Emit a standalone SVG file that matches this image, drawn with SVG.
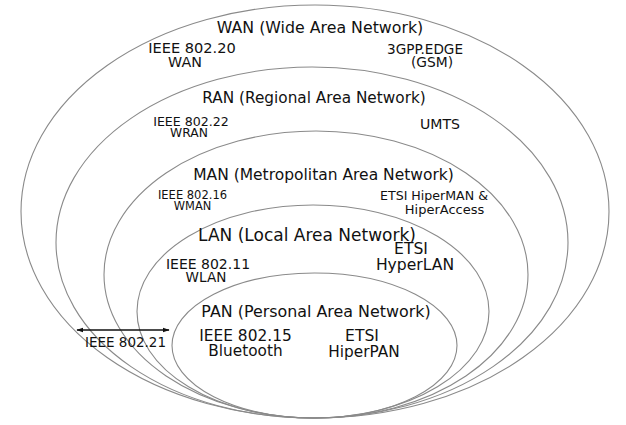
<svg xmlns="http://www.w3.org/2000/svg" width="626" height="425" viewBox="0 0 626 425">
<style>
.ring{fill:none;stroke:#8a8a8a;stroke-width:1.1}
text{font-family:"DejaVu Sans","Liberation Sans",sans-serif;fill:#111;text-anchor:middle}
.conn{stroke:#111;stroke-width:1.3;fill:none}
</style>
<defs>
<marker id="ah" viewBox="0 0 10 10" refX="9" refY="5" markerWidth="7" markerHeight="7" orient="auto-start-reverse" markerUnits="userSpaceOnUse">
<path d="M0,1.5 L10,5 L0,8.5 z" fill="#111"/>
</marker>
</defs>
<rect width="626" height="425" fill="#fff"/>
<g id="wan">
<ellipse class="ring" cx="315" cy="211.5" rx="294" ry="206.5"/>
<text x="320" y="32.5" font-size="15.8">WAN (Wide Area Network)</text>
<text x="192" y="53" font-size="14.6">IEEE 802.20</text>
<text x="185" y="67" font-size="14.3">WAN</text>
<text x="425" y="54" font-size="13.6">3GPP.EDGE</text>
<text x="432" y="67" font-size="13.8">(GSM)</text>
</g>
<g id="ran">
<ellipse class="ring" cx="312" cy="242.5" rx="256" ry="175.5"/>
<text x="314" y="102.5" font-size="15.3">RAN (Regional Area Network)</text>
<text x="191" y="125.5" font-size="12.6">IEEE 802.22</text>
<text x="189" y="136.5" font-size="12.3">WRAN</text>
<text x="440" y="129" font-size="14.1">UMTS</text>
</g>
<g id="man">
<ellipse class="ring" cx="316" cy="274.5" rx="212" ry="143.5"/>
<text x="323.5" y="179.6" font-size="15.5">MAN (Metropolitan Area Network)</text>
<text x="192.5" y="199" font-size="11.5">IEEE 802.16</text>
<text x="192.5" y="210" font-size="11.4">WMAN</text>
<text x="434" y="199.7" font-size="12.6">ETSI HiperMAN &amp;</text>
<text x="444.5" y="213.5" font-size="13">HiperAccess</text>
</g>
<g id="lan">
<ellipse class="ring" cx="313" cy="311.5" rx="176" ry="106.5"/>
<text x="307" y="241" font-size="17">LAN (Local Area Network)</text>
<text x="411" y="253.7" font-size="15.6">ETSI</text>
<text x="415" y="269.7" font-size="15.6">HyperLAN</text>
<text x="208" y="269" font-size="14">IEEE 802.11</text>
<text x="206" y="282" font-size="13.6">WLAN</text>
</g>
<g id="pan">
<ellipse class="ring" cx="314.5" cy="345.5" rx="142.5" ry="72.5"/>
<text x="316" y="316.8" font-size="15.9">PAN (Personal Area Network)</text>
<text x="245.5" y="340.6" font-size="15.4">IEEE 802.15</text>
<text x="245.5" y="355.6" font-size="15.3">Bluetooth</text>
<text x="362" y="340.6" font-size="15.6">ETSI</text>
<text x="364" y="356.6" font-size="15.3">HiperPAN</text>
</g>
<g id="connectors">
<line class="conn" x1="77" y1="330" x2="169" y2="330" marker-start="url(#ah)" marker-end="url(#ah)"/>
<text x="125.5" y="347" font-size="13.5">IEEE 802.21</text>
</g>
</svg>
